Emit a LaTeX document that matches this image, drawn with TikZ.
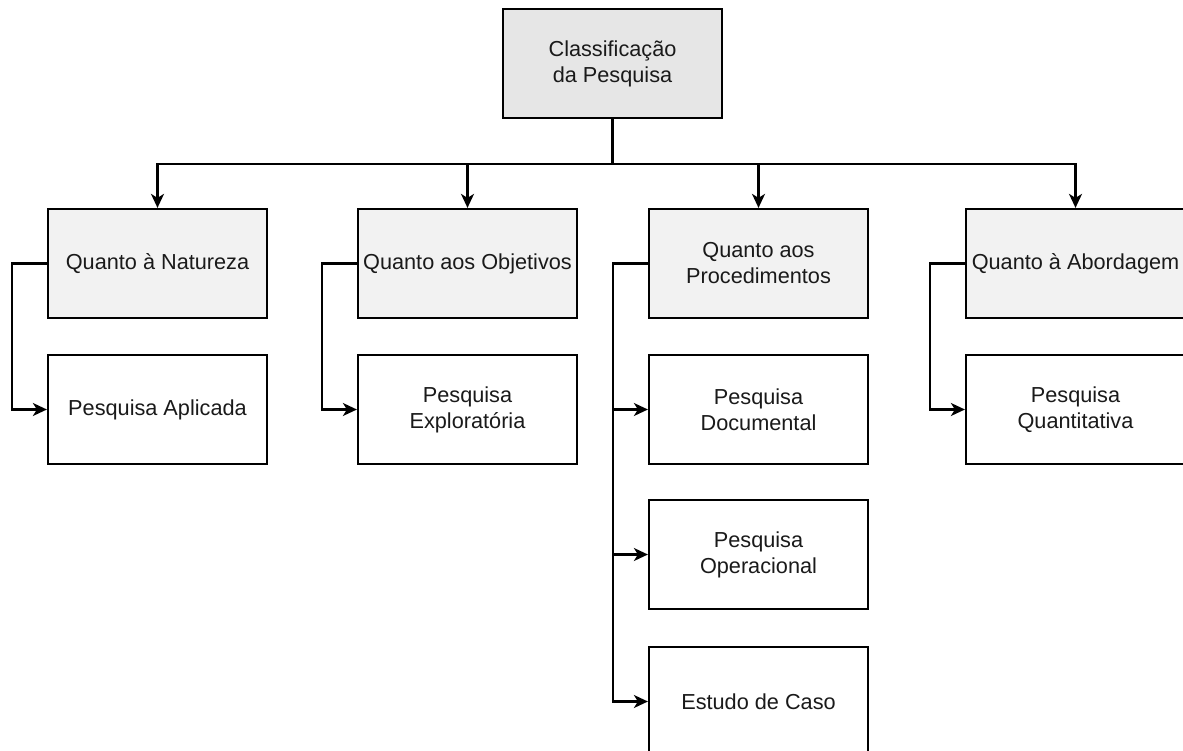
\documentclass[tikz,border=0pt]{standalone}
\usepackage{fontspec}
\setmainfont{Liberation Sans}
\usetikzlibrary{arrows.meta}
\definecolor{rootfill}{HTML}{E6E6E6}
\definecolor{catfill}{HTML}{F2F2F2}
\definecolor{ink}{HTML}{1A1A1A}
\begin{document}
\begin{tikzpicture}[x=1pt,y=-1pt,
  box/.style={draw=black,line width=2.2pt,minimum width=219pt,minimum height=109pt,
    align=center,inner sep=0pt,text=ink,font=\fontsize{21.7}{26}\selectfont},
  rootbox/.style={box,fill=rootfill},
  catbox/.style={box,fill=catfill},
  leafbox/.style={box,fill=white},
  link/.style={line width=2.2pt,draw=black},
  arr/.style={link,-{Stealth[length=14pt,width=13pt,inset=4pt]}}]
\useasboundingbox (0,0) rectangle (1183,751);
\clip (0,0) rectangle (1183,751);

% root
\node[rootbox] (root) at (612.5,63.5) {Classificação\\da Pesquisa};

% categories
\node[catbox] (nat) at (157.5,263.5) {Quanto à Natureza};
\node[catbox] (obj) at (467.5,263.5) {Quanto aos Objetivos};
\node[catbox] (proc) at (758.5,263.5) {Quanto aos\\Procedimentos};
\node[catbox] (abo) at (1075.5,263.5) {Quanto à Abordagem};

% leaves
\node[leafbox] (apl) at (157.5,409.5) {Pesquisa Aplicada};
\node[leafbox] (exp) at (467.5,409.5) {Pesquisa\\Exploratória};
\node[leafbox] (doc) at (758.5,409.5) {Pesquisa\\Documental};
\node[leafbox] (ope) at (758.5,554.5) {Pesquisa\\Operacional};
\node[leafbox] (cas) at (758.5,701.5) {Estudo de Caso};
\node[leafbox] (qua) at (1075.5,409.5) {Pesquisa\\Quantitativa};

% distribution bus
\coordinate (bus) at (612.5,164);
\foreach \c in {nat,obj,proc,abo}
  \draw[arr] (root.south) -- (bus) -| (\c.north);

% category to leaves
\draw[arr] (nat.west) -- ++(-35,0) |- (apl.west);
\draw[arr] (obj.west) -- ++(-35,0) |- (exp.west);
\draw[arr] (abo.west) -- ++(-35,0) |- (qua.west);
\coordinate (spine) at ([xshift=-35pt]proc.west);
\draw[arr] (proc.west) -- (spine) |- (doc.west);
\draw[arr] (spine) |- (ope.west);
\draw[arr] (spine) |- (cas.west);
\end{tikzpicture}
\end{document}
